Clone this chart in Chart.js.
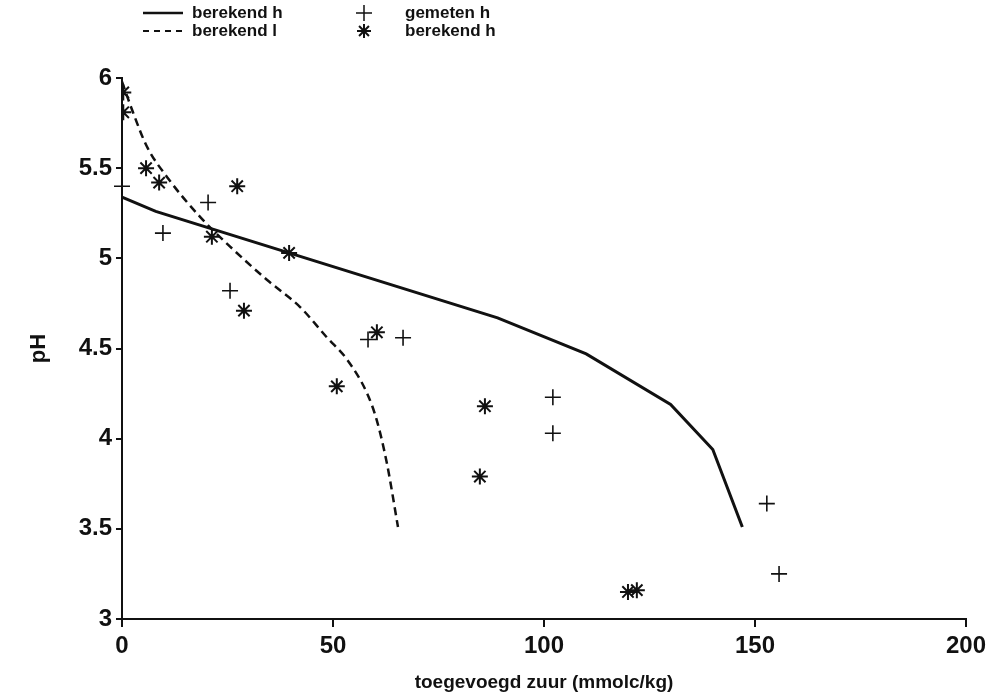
<!DOCTYPE html>
<html>
<head>
<meta charset="utf-8">
<script src="https://cdn.jsdelivr.net/npm/chart.js@4"></script>
<style>
    html, body { margin: 0; padding: 0; background: #fff; }
    #wrap { position: relative; width: 993px; height: 694px; }
</style>
</head>
<body>
<div id="wrap"><canvas id="phChart" width="993" height="694"></canvas></div>
<script>
// berekend h (model, solid line)
const calcHighX = [0, 8, 89, 110, 130, 140, 147];
const calcHighY = [5.34, 5.26, 4.67, 4.47, 4.19, 3.94, 3.51];

// berekend l (model, dashed line)
const calcLowX = [0, 2.6, 5.9, 10.7, 18.5, 26.3, 34.4, 42.2, 48.6, 53.3, 58.1, 60.4, 62.8, 65.4];
const calcLowY = [5.98, 5.81, 5.62, 5.45, 5.23, 5.05, 4.88, 4.73, 4.56, 4.44, 4.25, 4.10, 3.86, 3.51];

// gemeten h (plus markers)
const measX = [0, 9.7, 20.4, 25.6, 58.3, 66.6, 102.1, 102.1, 152.8, 155.7];
const measY = [5.40, 5.14, 5.31, 4.82, 4.55, 4.56, 4.23, 4.03, 3.64, 3.25];

// berekend h (asterisk markers)
const starX = [0.3, 0.3, 5.7, 8.8, 27.3, 21.3, 39.6, 28.9, 60.4, 50.9, 86, 84.8, 119.9, 122];
const starY = [5.92, 5.81, 5.50, 5.42, 5.40, 5.12, 5.03, 4.71, 4.59, 4.29, 4.18, 3.79, 3.15, 3.16];

const xTicks = [0, 50, 100, 150, 200];
const yTicks = [3, 3.5, 4, 4.5, 5, 5.5, 6];

const FONT = "'Liberation Sans', Arial, sans-serif";
const INK = "#111";

function toPoints(xs, ys) {
    return xs.map((x, i) => ({ x: x, y: ys[i] }));
}

// two-column legend above the plot
const legendPlugin = {
    id: "topLegend",
    afterDraw(chart) {
        const ctx = chart.ctx;
        ctx.save();
        ctx.strokeStyle = INK;
        ctx.fillStyle = INK;
        ctx.font = "bold 17px " + FONT;
        ctx.textBaseline = "middle";
        ctx.textAlign = "left";

        const rows = [13, 31];

        // solid sample
        ctx.lineWidth = 2.5;
        ctx.setLineDash([]);
        ctx.beginPath();
        ctx.moveTo(143, rows[0]);
        ctx.lineTo(183, rows[0]);
        ctx.stroke();
        ctx.fillText("berekend h", 192, rows[0]);

        // dashed sample
        ctx.lineWidth = 2;
        ctx.setLineDash([6, 5]);
        ctx.beginPath();
        ctx.moveTo(143, rows[1]);
        ctx.lineTo(183, rows[1]);
        ctx.stroke();
        ctx.setLineDash([]);
        ctx.fillText("berekend l", 192, rows[1]);

        // plus
        ctx.lineWidth = 1.5;
        ctx.beginPath();
        ctx.moveTo(356, rows[0]);
        ctx.lineTo(372, rows[0]);
        ctx.moveTo(364, rows[0] - 8);
        ctx.lineTo(364, rows[0] + 8);
        ctx.stroke();
        ctx.fillText("gemeten h", 405, rows[0]);

        // asterisk
        ctx.lineWidth = 2;
        ctx.beginPath();
        for (let a = 0; a < 4; a++) {
            const ang = a * Math.PI / 4;
            const dx = Math.cos(ang) * 7, dy = Math.sin(ang) * 7;
            ctx.moveTo(364 - dx, rows[1] - dy);
            ctx.lineTo(364 + dx, rows[1] + dy);
        }
        ctx.stroke();
        ctx.fillText("berekend h", 405, rows[1]);

        ctx.restore();
    },
};

const ctx = document.getElementById("phChart").getContext("2d");
new Chart(ctx, {
    type: "scatter",
    data: {
        datasets: [
            {
                label: "berekend h",
                data: toPoints(calcHighX, calcHighY),
                showLine: true,
                borderColor: INK,
                borderWidth: 3,
                pointRadius: 0,
                fill: false,
            },
            {
                label: "berekend l",
                data: toPoints(calcLowX, calcLowY),
                showLine: true,
                borderColor: INK,
                borderWidth: 2.5,
                borderDash: [8, 5],
                cubicInterpolationMode: "monotone",
                pointRadius: 0,
                fill: false,
            },
            {
                label: "gemeten h",
                data: toPoints(measX, measY),
                pointStyle: "cross",
                pointRadius: 8,
                pointBorderWidth: 1.6,
                borderColor: INK,
                backgroundColor: INK,
                clip: false,
            },
            {
                label: "berekend h",
                data: toPoints(starX, starY),
                pointStyle: "star",
                pointRadius: 8,
                pointBorderWidth: 2,
                borderColor: INK,
                backgroundColor: INK,
            },
        ],
    },
    options: {
        responsive: false,
        animation: false,
        layout: { padding: { top: 78, right: 27, left: 0, bottom: 0 } },
        plugins: {
            legend: { display: false },
            tooltip: { enabled: false },
        },
        scales: {
            x: {
                type: "linear",
                min: 0,
                max: 200,
                afterBuildTicks: (scale) => { scale.ticks = xTicks.map((v) => ({ value: v })); },
                afterFit: (scale) => { scale.height = 75; },
                grid: { drawOnChartArea: false, drawTicks: true, tickLength: 8, color: INK, lineWidth: 2 },
                border: { display: true, color: INK, width: 2 },
                ticks: {
                    color: INK,
                    font: { family: FONT, size: 24, weight: "bold" },
                    padding: 5,
                    callback: (v) => String(v),
                },
                title: {
                    display: true,
                    text: "toegevoegd zuur (mmolc/kg)",
                    color: INK,
                    font: { family: FONT, size: 19, weight: "bold" },
                    padding: { top: 2, bottom: 0 },
                },
            },
            y: {
                type: "linear",
                min: 3,
                max: 6,
                afterBuildTicks: (scale) => { scale.ticks = yTicks.map((v) => ({ value: v })); },
                afterFit: (scale) => { scale.width = 122; },
                grid: { drawOnChartArea: false, drawTicks: true, tickLength: 6, color: INK, lineWidth: 2 },
                border: { display: true, color: INK, width: 2 },
                ticks: {
                    color: INK,
                    font: { family: FONT, size: 24, weight: "bold" },
                    padding: 4,
                    callback: (v) => String(v),
                },
                title: {
                    display: true,
                    text: "pH",
                    color: INK,
                    font: { family: FONT, size: 22, weight: "bold" },
                    padding: { top: 26, bottom: 0 },
                },
            },
        },
    },
    plugins: [legendPlugin],
});
</script>
</body>
</html>
